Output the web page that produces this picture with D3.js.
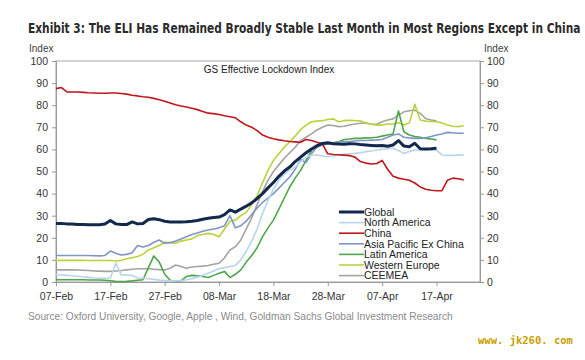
<!DOCTYPE html>
<html>
<head>
<meta charset="utf-8">
<script src="https://cdn.jsdelivr.net/npm/d3@7"></script>
<style>
  html, body { margin: 0; padding: 0; background: #fff; }
  svg { display: block; }
  text { font-family: "Liberation Sans", Arial, sans-serif; }
</style>
</head>
<body>
<svg id="chart" width="585" height="360"></svg>
<script>
// ---------- data ----------
const startDate = "2020-02-07";
const endDate = "2020-04-25";
const xTickLabels = ["07-Feb", "17-Feb", "27-Feb", "08-Mar", "18-Mar", "28-Mar", "07-Apr", "17-Apr"];
const yTicks = [0, 10, 20, 30, 40, 50, 60, 70, 80, 90, 100];

const seriesNames = ["Global", "North America", "China", "Asia Pacific Ex China", "Latin America", "Western Europe", "CEEMEA"];

// daily values starting 07-Feb-2020
const globalIdx = [26.5,26.5,26.3,26.2,26.0,26.0,25.9,25.9,25.9,26.2,
  27.8,26.3,26.0,26.0,27.2,26.3,26.5,28.3,28.6,28.2,
  27.5,27.2,27.2,27.2,27.3,27.5,27.8,28.4,28.8,29.2,
  29.4,30.5,32.6,31.6,33.0,34.3,35.8,37.8,40.0,42.6,
  45.0,47.8,50.2,52.0,54.5,56.5,58.5,60.2,61.6,62.7,
  63.0,62.6,62.4,62.3,62.6,62.5,62.2,62.0,61.8,61.6,
  61.8,61.4,62.0,64.0,61.5,61.2,62.8,60.3,60.2,60.3,60.5];
const northAmerica = [3.3,3.2,3.0,2.8,2.6,2.4,2.1,1.8,1.7,1.7,
  1.8,8.6,3.2,3.2,3.0,1.8,1.7,1.5,1.2,0.9,
  0.7,0.5,0.5,0.6,1.0,1.5,2.2,3.0,4.0,5.0,
  6.0,6.5,7.0,7.5,10.0,14.0,18.5,24.0,31.0,37.0,
  42.0,46.0,49.0,50.5,52.0,54.5,56.5,57.5,57.5,57.0,
  56.7,57.0,57.5,57.8,58.0,58.2,58.5,59.0,59.3,59.7,
  60.0,60.3,60.5,59.5,58.2,59.0,59.7,59.7,59.7,59.7,
  59.7,57.5,57.3,57.3,57.4,57.5];
const china = [87.5,88.0,86.0,86.0,86.0,85.8,85.6,85.5,85.4,85.4,
  85.5,85.5,85.3,85.0,84.5,84.2,83.8,83.6,83.1,82.5,
  81.8,81.0,80.2,79.6,79.2,78.6,78.0,77.2,76.4,76.2,
  75.8,75.2,74.8,74.3,72.5,71.0,70.0,68.5,66.5,65.5,
  64.8,64.3,63.9,63.6,63.4,63.2,64.5,64.0,63.2,62.5,
  58.0,57.7,57.6,57.4,57.2,56.5,54.5,53.8,53.4,53.6,
  55.0,51.0,47.8,47.0,46.5,46.0,44.8,43.0,42.0,41.5,
  41.3,41.3,46.0,47.0,46.7,46.2];
const asiaPacific = [12.0,12.0,12.0,12.0,12.0,12.0,12.0,11.9,11.8,12.0,
  14.0,13.0,12.2,12.5,13.2,16.5,15.8,16.5,18.0,19.0,
  17.5,17.8,18.5,19.5,20.5,21.5,22.2,23.0,23.5,24.0,
  24.5,25.5,30.0,24.5,25.5,27.5,30.5,33.5,36.0,38.0,
  40.0,42.5,45.0,47.5,51.0,55.5,54.0,58.0,61.0,62.0,
  62.5,63.0,63.3,63.5,63.5,63.8,64.0,64.0,64.2,64.3,
  64.5,65.5,66.5,67.0,65.5,65.2,65.0,65.0,65.3,65.8,
  66.5,67.0,67.7,67.5,67.3,67.3];
const latinAmerica = [1.0,1.0,1.0,1.0,1.0,1.0,0.9,0.9,0.9,0.8,
  0.6,0.3,0.2,0.3,0.5,0.8,1.0,6.5,11.8,9.0,
  3.5,0.8,0.3,0.5,2.5,3.0,2.8,2.5,2.0,3.0,
  4.0,4.8,2.0,3.5,5.5,9.0,12.0,15.5,20.5,24.5,
  28.0,33.0,38.0,43.0,47.0,50.5,55.0,59.5,62.0,63.0,
  62.5,63.0,63.5,64.5,64.7,65.0,65.0,65.2,65.3,65.5,
  66.0,66.5,67.0,77.4,68.0,66.5,65.8,65.5,65.0,64.7,64.3];
const westernEurope = [9.8,9.8,9.8,9.8,9.8,9.8,9.7,9.7,9.7,9.7,
  9.7,9.5,9.8,10.5,11.0,11.5,12.5,14.5,15.5,16.5,
  18.0,17.8,17.5,18.5,19.0,19.5,21.0,21.5,22.0,21.5,
  20.5,24.0,27.5,28.0,30.0,31.5,35.0,39.0,45.0,50.5,
  55.0,58.0,61.0,63.5,66.0,69.0,71.0,72.5,72.8,73.0,
  73.5,73.8,72.5,73.0,73.2,73.0,72.9,72.0,71.4,71.0,
  71.0,71.5,71.5,72.0,71.0,72.0,80.4,73.3,72.8,72.6,
  72.5,72.0,71.0,70.5,70.3,70.7];
const ceemea = [5.5,5.5,5.5,5.5,5.4,5.3,5.2,5.0,4.9,4.8,
  4.8,5.0,5.2,5.5,5.8,6.0,6.0,6.0,5.8,5.6,
  5.4,6.2,7.7,7.0,6.2,6.8,7.0,7.2,7.5,8.0,
  8.5,11.0,14.5,16.0,19.0,24.0,29.0,35.0,41.0,46.0,
  50.0,53.0,56.0,58.5,61.0,64.0,65.5,67.0,68.8,70.0,
  71.0,70.8,70.3,70.5,71.0,71.5,71.8,71.8,71.5,71.4,
  72.5,73.3,73.8,75.5,77.0,77.5,77.8,76.3,74.0,73.3,72.9];

const seriesValues = [globalIdx, northAmerica, china, asiaPacific, latinAmerica, westernEurope, ceemea];
const seriesColors = ["#13284d", "#b7d4ec", "#c0161c", "#7f96c6", "#4ea54b", "#b8d43a", "#a3a3a3"];
const seriesWidths = [3, 1.6, 1.6, 1.6, 1.6, 1.6, 1.6];

// ---------- layout ----------
const svg = d3.select("#chart");
const mLeft = 56, mRight = 480, mTop = 61, mBottom = 282;

const parseDay = d3.timeParse("%Y-%m-%d");
const parseTick = d3.timeParse("%d-%b-%Y");
const t0 = parseDay(startDate), t1 = parseDay(endDate);

const x = d3.scaleTime().domain([t0, t1]).range([mLeft, mRight]);
const y = d3.scaleLinear().domain([0, 100]).range([mBottom, mTop]);

// helper: horizontally squeeze a text to a target width
function fitWidth(sel, x0, w) {
  const nat = sel.node().getComputedTextLength();
  const k = Math.min(1, w / nat);
  sel.attr("x", 0).attr("transform", `translate(${x0},0) scale(${k},1)`);
}

// title
const title = svg.append("text")
  .attr("y", 33)
  .style("font-family", "'Liberation Sans Narrow', 'DejaVu Sans Condensed', Arial, sans-serif")
  .style("font-weight", "bold").style("font-size", "14.5px").style("fill", "#2b2b2b")
  .text("Exhibit 3: The ELI Has Remained Broadly Stable Last Month in Most Regions Except in China");
fitWidth(title, 28, 553);

// "Index" labels
svg.append("text").attr("x", 29).attr("y", 52).style("font-size", "10px").style("fill", "#404040").text("Index");
svg.append("text").attr("x", 484).attr("y", 52).style("font-size", "10px").style("fill", "#404040").text("Index");

// frame
svg.append("rect").attr("x", mLeft).attr("y", mTop).attr("width", mRight - mLeft).attr("height", mBottom - mTop)
  .attr("fill", "none").attr("stroke", "#a6a6a6").attr("stroke-width", 1);

// axes
const tickDates = xTickLabels.map(s => parseTick(s + "-2020"));
const xAxis = d3.axisBottom(x).tickValues(tickDates).tickFormat((d, i) => xTickLabels[i]).tickSize(4).tickSizeOuter(0);
const gx = svg.append("g").attr("transform", `translate(0,${mBottom})`).call(xAxis);
gx.select(".domain").attr("stroke", "#999");
gx.selectAll(".tick line").attr("stroke", "#999");
gx.selectAll(".tick text").attr("dy", "1.05em").style("font-size", "10.5px").style("fill", "#333")
  .style("font-family", "'Liberation Sans Narrow', Arial, sans-serif");

const yAxisL = d3.axisLeft(y).tickValues(yTicks).tickSize(4).tickSizeOuter(0);
const gyl = svg.append("g").attr("transform", `translate(${mLeft},0)`).call(yAxisL);
gyl.select(".domain").attr("stroke", "#999");
gyl.selectAll(".tick line").attr("stroke", "#999");
gyl.selectAll(".tick text").attr("x", -8).style("font-size", "10.5px").style("fill", "#333");

const yAxisR = d3.axisRight(y).tickValues(yTicks).tickSize(4).tickSizeOuter(0);
const gyr = svg.append("g").attr("transform", `translate(${mRight},0)`).call(yAxisR);
gyr.select(".domain").attr("stroke", "#999");
gyr.selectAll(".tick line").attr("stroke", "#999");
gyr.selectAll(".tick text").attr("x", 7).style("font-size", "10.5px").style("fill", "#333");

// inner title
svg.append("text").attr("x", 269).attr("y", 73).attr("text-anchor", "middle")
  .style("font-size", "10px").style("fill", "#222").text("GS Effective Lockdown Index");

// lines
const line = d3.line()
  .x((d, i) => x(d3.timeDay.offset(t0, i)))
  .y(d => y(d));

const order = [6, 5, 4, 3, 1, 2, 0];
order.forEach(k => {
  svg.append("path")
    .datum(seriesValues[k])
    .attr("fill", "none")
    .attr("stroke", seriesColors[k])
    .attr("stroke-width", seriesWidths[k])
    .attr("stroke-linejoin", "round")
    .attr("d", line);
});

// legend
const lg = svg.append("g");
seriesNames.forEach((name, i) => {
  const yy = 212 + i * 10.6;
  lg.append("line").attr("x1", 339).attr("x2", 364).attr("y1", yy).attr("y2", yy)
    .attr("stroke", seriesColors[i]).attr("stroke-width", seriesWidths[i]);
  lg.append("text").attr("x", 364).attr("y", yy + 3.8)
    .style("font-size", "10.5px").style("fill", "#222").text(name);
});

// source
const src = svg.append("text").attr("y", 320)
  .style("font-size", "11px").style("fill", "#8a8a8a")
  .text("Source: Oxford University, Google, Apple , Wind, Goldman Sachs Global Investment Research");
fitWidth(src, 28, 425);

// watermark
const wm = svg.append("text").attr("y", 344)
  .style("font-family", "'DejaVu Sans Mono', 'Liberation Mono', monospace")
  .style("font-weight", "bold").style("font-size", "11px").style("fill", "#c9a000")
  .text("www. jk260. com");
fitWidth(wm, 478, 95);
</script>
</body>
</html>
